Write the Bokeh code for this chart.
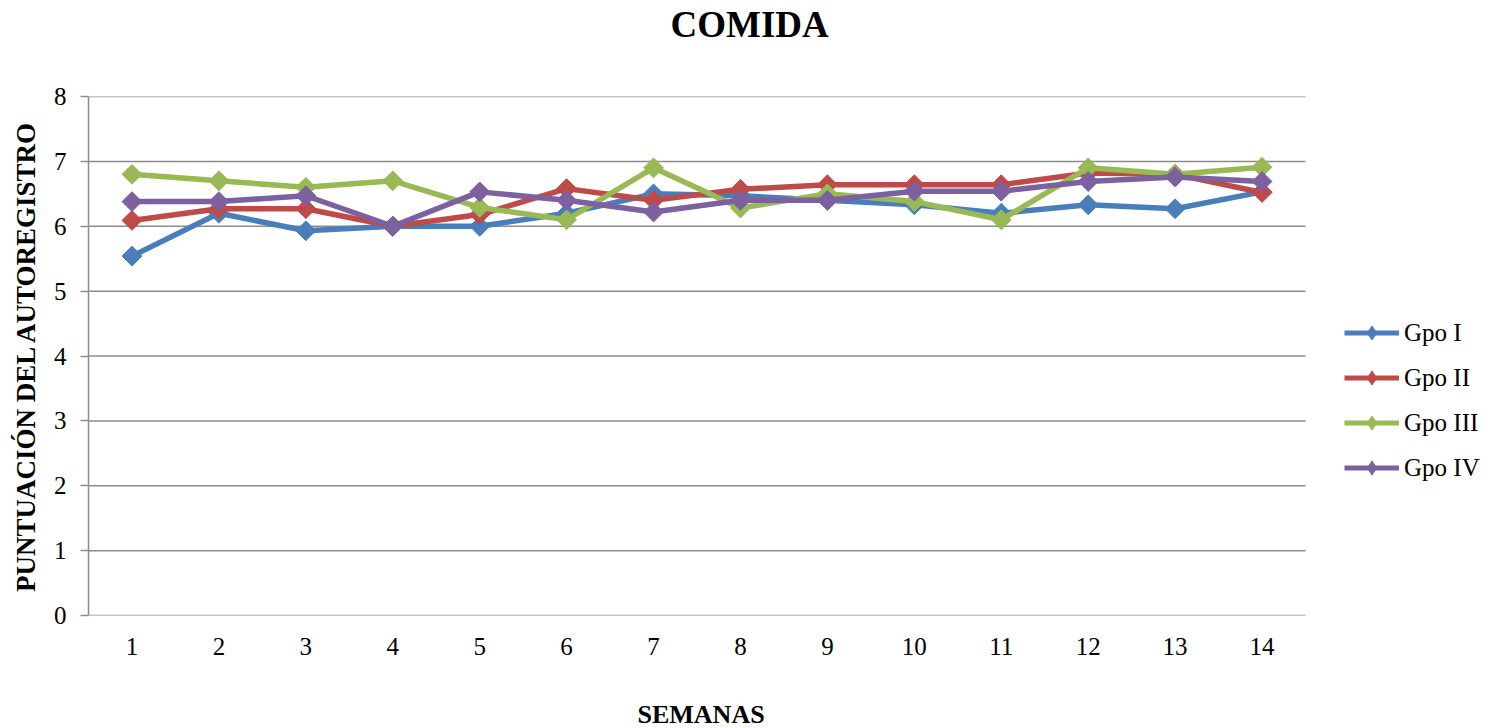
import math
from bokeh.plotting import figure
from bokeh.models import FixedTicker, Legend, LegendItem, Title
from bokeh.embed import file_html
from bokeh.resources import INLINE

# Weekly self-record scores per group
semanas = list(range(1, 15))
gpo_i = [5.54, 6.2, 5.93, 6.0, 6.0, 6.2, 6.5, 6.47, 6.4, 6.33, 6.2, 6.33, 6.27, 6.53]
gpo_ii = [6.09, 6.27, 6.27, 6.0, 6.18, 6.58, 6.4, 6.57, 6.64, 6.64, 6.64, 6.82, 6.8, 6.52]
gpo_iii = [6.8, 6.7, 6.6, 6.7, 6.29, 6.1, 6.9, 6.28, 6.5, 6.38, 6.1, 6.9, 6.8, 6.91]
gpo_iv = [6.38, 6.38, 6.47, 6.0, 6.53, 6.4, 6.22, 6.4, 6.4, 6.54, 6.54, 6.69, 6.76, 6.69]
nombres = ["Gpo I", "Gpo II", "Gpo III", "Gpo IV"]
colores = ["#4A7EBB", "#BE4B48", "#98B954", "#7D60A0"]
y_ticks = list(range(0, 9))

FONT = "Liberation Serif"
GRID = "#8C8C8C"

# plotting area spans 0.5..14.5; the frame is widened to the right so the
# legend can sit beside the gridded area
PLOT_LEFT, PLOT_RIGHT, CANVAS_W = 88, 1305, 1488
x_lo, x_hi = 0.5, 14.5
x_end = x_lo + (x_hi - x_lo) * (CANVAS_W - PLOT_LEFT) / (PLOT_RIGHT - PLOT_LEFT)

p = figure(
    width=CANVAS_W, height=728,
    x_range=(x_lo, x_end), y_range=(0, 8),
    output_backend="svg", toolbar_location=None,
    min_border_left=PLOT_LEFT, min_border_right=0,
    min_border_top=96, min_border_bottom=113,
)
p.outline_line_color = None
p.background_fill_color = "white"
p.border_fill_color = "white"
p.title.visible = False

# axes
p.xaxis.ticker = FixedTicker(ticks=semanas)
p.yaxis.ticker = FixedTicker(ticks=y_ticks)
for ax in (p.xaxis[0], p.yaxis[0]):
    ax.major_label_text_font = FONT
    ax.major_label_text_font_size = "25px"
    ax.major_label_text_color = "black"
    ax.minor_tick_line_color = None
    ax.axis_label_text_font = FONT
    ax.axis_label_text_font_style = "bold"
    ax.axis_label_text_color = "black"

p.xaxis.axis_line_color = None
p.xaxis.major_tick_line_color = None
p.xaxis.major_tick_out = 0
p.xaxis.major_tick_in = 0
p.xaxis.major_label_standoff = 22

p.yaxis.axis_line_color = GRID
p.yaxis.axis_line_width = 1.5
p.yaxis.major_tick_line_color = GRID
p.yaxis.major_tick_line_width = 1.5
p.yaxis.major_tick_out = 8
p.yaxis.major_tick_in = 0
p.yaxis.major_label_standoff = 14
p.yaxis.axis_label = "PUNTUACIÓN DEL AUTOREGISTRO"
p.yaxis.axis_label_text_font_size = "27px"
p.yaxis.axis_label_standoff = 10

p.xgrid.grid_line_color = None
p.ygrid.grid_line_color = None

# horizontal gridlines across the data area only
p.segment(x0=[x_lo] * len(y_ticks), x1=[x_hi] * len(y_ticks), y0=y_ticks, y1=y_ticks,
          line_color=GRID, line_width=1.5)

# chart title (top) and x-axis title (bottom); blank spacer titles push them outward
p.add_layout(Title(text=" ", text_font_size="1px", standoff=47), "above")
p.add_layout(Title(text="COMIDA", align="left", offset=582,
                   text_font=FONT, text_font_style="bold",
                   text_font_size="37px", text_color="black", standoff=3), "above")
p.add_layout(Title(text=" ", text_font_size="1px", standoff=37), "below")
p.add_layout(Title(text="SEMANAS", align="left", offset=549,
                   text_font=FONT, text_font_style="bold",
                   text_font_size="26px", text_color="black", standoff=0), "below")

# series
legend_items = []
for nombre, serie, color in zip(nombres, [gpo_i, gpo_ii, gpo_iii, gpo_iv], colores):
    p.line(semanas, serie, line_color=color, line_width=5.5)
    p.scatter(semanas, serie, marker="square", size=14, angle=math.pi / 4,
              fill_color=color, line_color=color)
    # legend-only glyphs (line with a diamond); a single NaN point keeps them off the plot
    lg_line = p.line(x=[math.nan], y=[math.nan], line_color=color, line_width=5)
    lg_mark = p.scatter(x=[math.nan], y=[math.nan], marker="diamond", size=20,
                        fill_color=color, line_color=color)
    legend_items.append(LegendItem(label=nombre, renderers=[lg_line, lg_mark]))

legend = Legend(
    items=legend_items, location=(PLOT_RIGHT - PLOT_LEFT + 39, 130),
    label_text_font=FONT, label_text_font_size="25px", label_text_color="black",
    glyph_width=55, glyph_height=35, label_height=22, spacing=10,
    label_standoff=5, padding=0, margin=0,
    border_line_color=None, background_fill_alpha=0,
)
p.add_layout(legend, "center")

open("out.html", "w").write(file_html(p, INLINE))
